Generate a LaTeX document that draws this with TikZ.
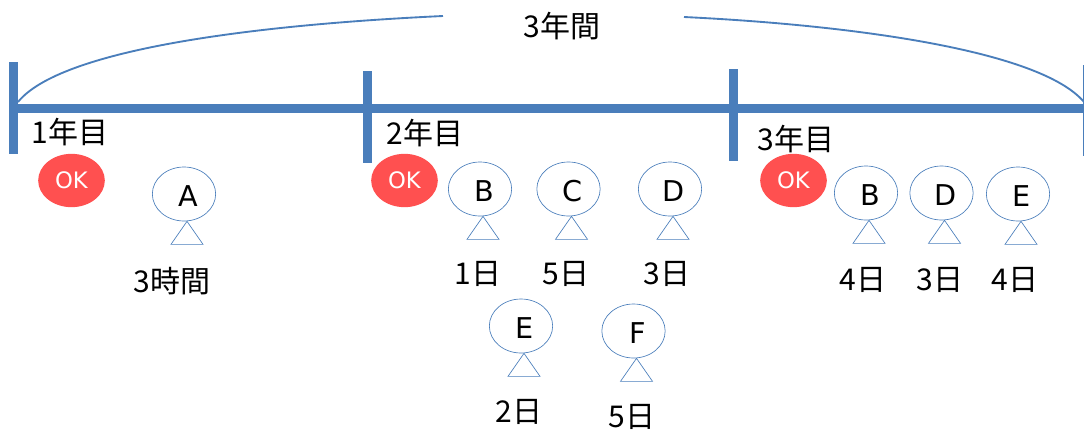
\documentclass[tikz,border=0pt]{standalone}
\usepackage{fontspec}
\setmainfont{DejaVu Sans}
\newfontfamily\cjk{Noto Sans CJK JP}
\usepackage{tikz}
\usetikzlibrary{calc, shapes.geometric}
\definecolor{lineblue}{HTML}{4A7EBB}
\definecolor{okred}{HTML}{FF5050}
\tikzset{
    barline/.style={draw=lineblue, line width=6.75pt},
    arcline/.style={draw=lineblue, line width=1.4pt},
    person/.style={ellipse, draw=lineblue, line width=0.5pt, inner sep=0pt, minimum width=47.5pt, minimum height=40.5pt},
    persontri/.style={draw=lineblue, line width=0.5pt},
    oknode/.style={ellipse, fill=okred, text=white, inner sep=0pt, minimum width=50pt, minimum height=40pt, font=\fontsize{17}{17}\selectfont},
    lettertext/.style={font=\fontsize{21.5}{21.5}\selectfont, text=black},
    jptext/.style={font=\fontsize{22.5}{22.5}\selectfont\cjk, text=black}
}

\begin{document}
\begin{tikzpicture}[x=0.75pt, y=-0.75pt]
    \useasboundingbox (0,0) rectangle (1084,433);
    \clip (0,0) rectangle (1084,433);

    % Time axis
    \coordinate (axisL) at (13.5,108.5);
    \coordinate (axisR) at (1087.5,108.5);
    \draw[barline] (axisL) -- (axisR);

    % Year ticks
    \coordinate (t1a) at (13.5,62);    \coordinate (t1b) at (13.5,154);
    \coordinate (t2a) at (367.5,71);   \coordinate (t2b) at (367.5,163);
    \coordinate (t3a) at (733.5,69);   \coordinate (t3b) at (733.5,161);
    \coordinate (t4a) at (1087.5,65);  \coordinate (t4b) at (1087.5,156);
    \draw[barline] (t1a) -- (t1b);
    \draw[barline] (t2a) -- (t2b);
    \draw[barline] (t3a) -- (t3b);
    \draw[barline] (t4a) -- (t4b);

    % Span over the three years
    \node[jptext] (span) at (562,26) {3年間};
    \coordinate (arcLs) at (18,102);
    \coordinate (arcLe) at (443,16);
    \coordinate (arcRs) at (684,17);
    \coordinate (arcRe) at (1084,102);
    \draw[arcline] (arcLs) .. controls (60,50) and (250,25) .. (arcLe);
    \draw[arcline] (arcRs) .. controls (850,25) and (1040,50) .. (arcRe);

    % Years
    \node[jptext] (year1) at (70,132) {1年目};
    \node[jptext] (year2) at (425,133) {2年目};
    \node[jptext] (year3) at (796,139) {3年目};

    % OK marks
    \node[oknode] (ok1) at (71.5,180.5) {OK};
    \node[oknode] (ok2) at (404.5,180.5) {OK};
    \node[oknode] (ok3) at (793.5,180.5) {OK};

    % People: id/letter/circle x/circle y/time x/time y/time
    \foreach \id/\who/\cx/\cy/\tx/\ty/\spent in {
        a1/A/184/194/172/281/3時間,
        b2/B/480/189/478/274/1日,
        c2/C/568.5/189/566/274/5日,
        d2/D/670/189/667/274/3日,
        e2/E/521/326/519/412/2日,
        f2/F/633.5/331/632/417/5日,
        b3/B/866/193/863/280/4日,
        d3/D/941.5/193/940/280/3日,
        e3/E/1018/194/1015/280/4日}
    {
        \node[person] (\id) at (\cx,\cy) {};
        \node[lettertext] (\id l) at ($(\id.center)+(4,2)$) {\who};
        \coordinate (\id t) at ($(\id.south)+(3,0)$);
        \draw[persontri] (\id t) -- ++(-16,23) -- ++(32,0) -- cycle;
        \node[jptext] (\id d) at (\tx,\ty) {\spent};
    }
\end{tikzpicture}
\end{document}
